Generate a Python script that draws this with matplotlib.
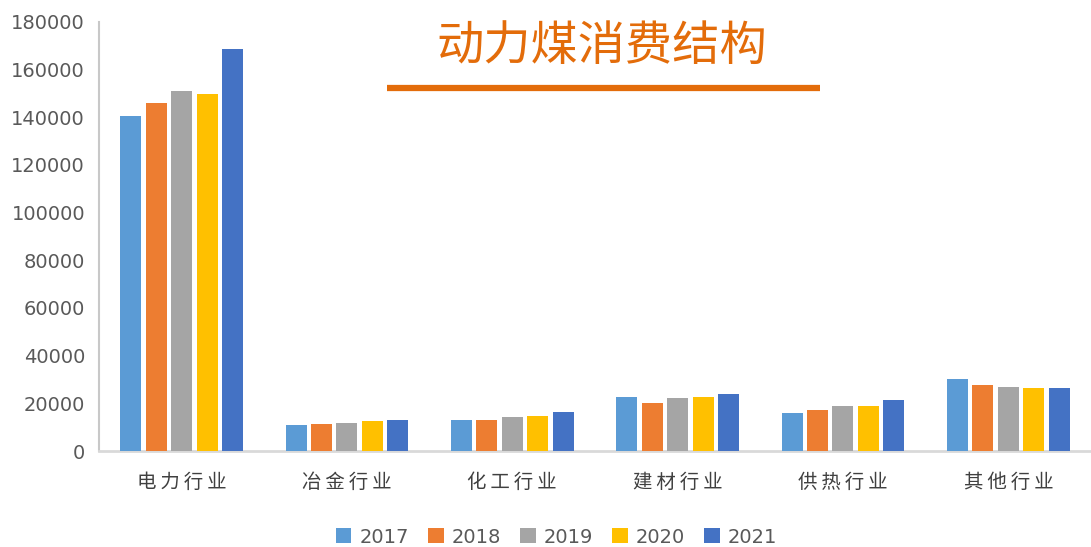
import matplotlib
matplotlib.use("Agg")
import matplotlib.pyplot as plt
import numpy as np
from matplotlib.lines import Line2D

plt.rcParams["font.family"] = ["Noto Sans CJK SC", "DejaVu Sans"]

categories = ["电力行业", "冶金行业", "化工行业", "建材行业", "供热行业", "其他行业"]
years = ["2017", "2018", "2019", "2020", "2021"]
v2017 = [140600, 10900, 13000, 22600, 15900, 30100]
v2018 = [146100, 11300, 13000, 20100, 17200, 27600]
v2019 = [151100, 11700, 14200, 22200, 18800, 26800]
v2020 = [149900, 12600, 14650, 22600, 18800, 26400]
v2021 = [168700, 13000, 16300, 23900, 21300, 26400]
series = [v2017, v2018, v2019, v2020, v2021]
colors = ["#5B9BD5", "#ED7D31", "#A5A5A5", "#FFC000", "#4472C4"]
title = "动力煤消费结构"

fig = plt.figure(figsize=(10.91, 5.47), dpi=100)
ax = fig.add_axes([0.0907, 0.1755, 0.9093, 0.7843])

x = np.arange(len(categories))
pitch = 0.154
width = 0.127
for i, (vals, c, yr) in enumerate(zip(series, colors, years)):
    ax.bar(x + (i - 2) * pitch, vals, width=width, color=c, label=yr, zorder=3)

ax.set_xlim(-0.5, len(categories) - 0.5)
ax.set_ylim(0, 180000)
ax.set_yticks(np.arange(0, 180001, 20000))
ax.set_xticks(x)
# spread the characters a little, like the original
spaced = ["\u2009".join(c) for c in categories]
ax.set_xticklabels(spaced, fontsize=14, color="#404040")
ax.tick_params(axis="y", labelsize=14, labelcolor="#595959", length=0, pad=10)
ax.tick_params(axis="x", length=0, pad=15)
for lab in ax.get_yticklabels():
    lab.set_family(["DejaVu Sans"])
for s in ["top", "right"]:
    ax.spines[s].set_visible(False)
ax.spines["left"].set_color("#C8C8C8")
ax.spines["left"].set_linewidth(1.5)
ax.spines["bottom"].set_color("#D9D9D9")
ax.spines["bottom"].set_linewidth(2)

fig.text(0.552, 1 - 47 / 547, title, fontsize=34, color="#E36C0A", ha="center", va="center")
fig.add_artist(Line2D([387 / 1091, 820 / 1091], [1 - 88 / 547, 1 - 88 / 547],
                      color="#E36C0A", linewidth=4.5, solid_capstyle="butt",
                      transform=fig.transFigure))

leg = fig.legend(loc="center", bbox_to_anchor=(0.51, 0.018), ncol=5, frameon=False,
                 fontsize=14, handlelength=0.8, handleheight=0.8, handletextpad=0.4,
                 columnspacing=1.0)
for t in leg.get_texts():
    t.set_color("#595959")
    t.set_family(["DejaVu Sans"])

fig.savefig("out.png", dpi=100)
